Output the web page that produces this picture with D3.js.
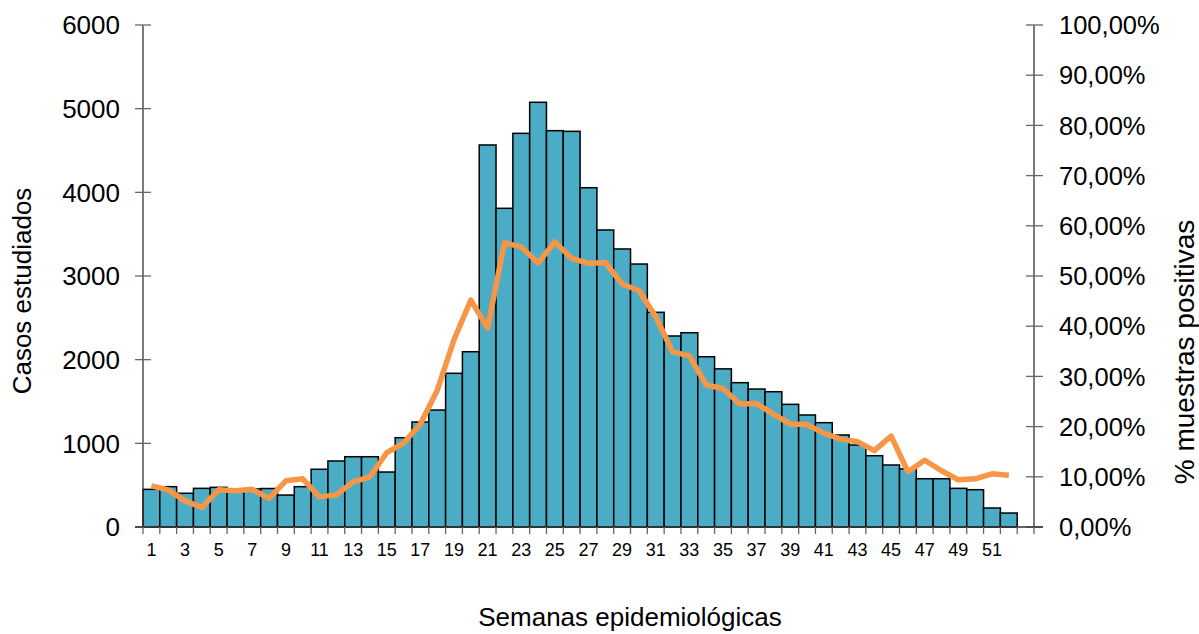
<!DOCTYPE html>
<html><head><meta charset="utf-8">
<script src="https://cdn.jsdelivr.net/npm/d3@7"></script>
<style>
html,body{margin:0;padding:0;background:#fff;}
svg{display:block;font-family:"Liberation Sans",Arial,sans-serif;}
</style></head>
<body><svg id="c" width="1199" height="634"></svg>
<script>
const weeks = d3.range(1, 53);
const casos = [450,482,403,462,474,455,455,460,382,482,690,789,840,840,657,1067,1255,1398,1837,2095,4566,3809,4705,5076,4737,4729,4055,3550,3323,3143,2566,2283,2322,2035,1890,1725,1649,1617,1466,1339,1247,1100,980,852,741,695,577,577,462,446,227,167];
const positivas = [8.2,7.4,5.2,3.9,7.4,7.2,7.5,5.7,9.2,9.6,6.0,6.4,9.0,10.0,14.8,16.7,20.5,27.2,37.3,45.2,39.6,56.6,55.8,52.6,56.8,53.5,52.5,52.7,48.4,47.1,41.9,34.9,34.1,28.3,27.6,24.5,24.6,22.5,20.5,20.4,18.7,17.5,17.0,15.2,18.1,11.0,13.3,11.2,9.4,9.6,10.6,10.3];
const leftTicks = [0,1000,2000,3000,4000,5000,6000];
const rightTicks = [0,10,20,30,40,50,60,70,80,90,100];
const xLabels = weeks.filter(w => w % 2 === 1);

const svg = d3.select("#c");
const L = 143, R = 1034, T = 25, B = 527;
const slots = d3.range(1, 54);
const x = d3.scaleBand().domain(slots).range([L, R]).paddingInner(0).paddingOuter(0);
const y = d3.scaleLinear().domain([0, 6000]).range([B, T]);
const y2 = d3.scaleLinear().domain([0, 100]).range([B, T]);

// bars
svg.append("g").selectAll("rect").data(weeks).join("rect")
  .attr("x", d => x(d)).attr("width", x.bandwidth())
  .attr("y", (d,i) => y(casos[i])).attr("height", (d,i) => B - y(casos[i]))
  .attr("fill", "#4BACC6").attr("stroke", "#000").attr("stroke-width", 1.5);

const axisCol = "#333", tickCol = "#666";
// left axis
const gl = svg.append("g");
gl.append("line").attr("x1", L).attr("x2", L).attr("y1", T).attr("y2", B).attr("stroke", axisCol).attr("stroke-width", 1.3);
gl.selectAll("line.t").data(leftTicks).join("line").attr("class","t")
  .attr("x1", L-8).attr("x2", L+8).attr("y1", d => y(d)).attr("y2", d => y(d))
  .attr("stroke", tickCol).attr("stroke-width", 1.3);
gl.selectAll("text").data(leftTicks).join("text")
  .attr("x", 120).attr("y", d => y(d)).attr("dy", "0.36em").attr("text-anchor", "end")
  .attr("font-size", 26).text(d => d);

// right axis
const gr = svg.append("g");
gr.append("line").attr("x1", R).attr("x2", R).attr("y1", T).attr("y2", B).attr("stroke", axisCol).attr("stroke-width", 1.3);
gr.selectAll("line.t").data(rightTicks).join("line").attr("class","t")
  .attr("x1", R-8).attr("x2", R+9).attr("y1", d => y2(d)).attr("y2", d => y2(d))
  .attr("stroke", tickCol).attr("stroke-width", 1.3);
gr.selectAll("text").data(rightTicks).join("text")
  .attr("x", 1059).attr("y", d => y2(d)).attr("dy", "0.36em").attr("text-anchor", "start")
  .attr("font-size", 25.5).text(d => d.toFixed(2).replace(".", ",") + "%");

// x axis
const gx = svg.append("g");
gx.append("line").attr("x1", L-8).attr("x2", R+9).attr("y1", B).attr("y2", B).attr("stroke", axisCol).attr("stroke-width", 1.3);
gx.selectAll("line.t").data(slots.concat([54])).join("line").attr("class","t")
  .attr("x1", d => d === 54 ? R : x(d)).attr("x2", d => d === 54 ? R : x(d))
  .attr("y1", B).attr("y2", B+7).attr("stroke", tickCol).attr("stroke-width", 1.3);
gx.selectAll("text").data(xLabels).join("text")
  .attr("x", d => x(d) + x.bandwidth()/2).attr("y", 556)
  .attr("text-anchor", "middle").attr("font-size", 18).text(d => d);

// line
const line = d3.line().x((d,i) => x(weeks[i]) + x.bandwidth()/2).y(d => y2(d));
svg.append("path").datum(positivas).attr("d", line)
  .attr("fill", "none").attr("stroke", "#F79646").attr("stroke-width", 5.5)
  .attr("stroke-linejoin", "round").attr("stroke-linecap", "butt");

// titles
svg.append("text").attr("transform", "translate(31,291) rotate(-90)")
  .attr("text-anchor", "middle").attr("font-size", 26).text("Casos estudiados");
svg.append("text").attr("transform", "translate(1194,352) rotate(-90)")
  .attr("text-anchor", "middle").attr("font-size", 28).text("% muestras positivas");
svg.append("text").attr("x", 630).attr("y", 626)
  .attr("text-anchor", "middle").attr("font-size", 26).text("Semanas epidemiológicas");
</script></body></html>
